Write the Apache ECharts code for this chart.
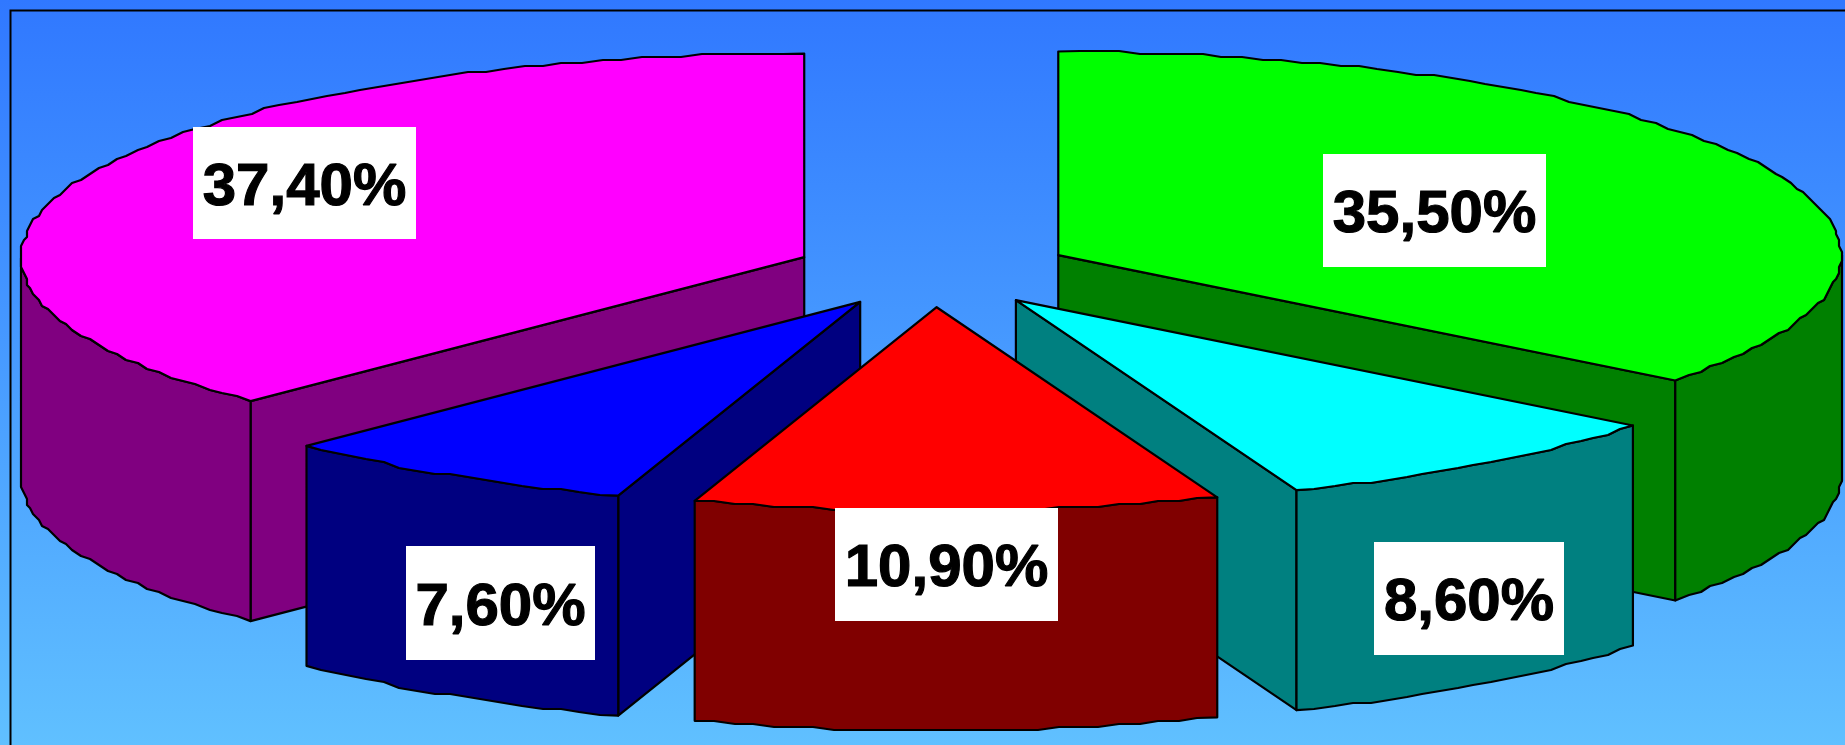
<!DOCTYPE html>
<html>
<head>
<meta charset="utf-8">
<style>html,body{margin:0;padding:0;background:#fff}#c{width:1845px;height:745px}</style>
<script src="https://cdn.jsdelivr.net/npm/echarts@6/dist/echarts.min.js"></script>
</head>
<body>
<div id="c"></div>
<script>
// Data: pie shares in drawing sequence counter-clockwise from 12 o'clock
const categories = ['A', 'B', 'C', 'D', 'E'];
const shares = [37.4, 7.6, 10.9, 8.6, 35.5];
const shareLabels = ['37,40%', '7,60%', '10,90%', '8,60%', '35,50%'];
const topColors = ['#ff00ff', '#0000ff', '#ff0000', '#00ffff', '#00ff00'];
const sideColors = ['#800080', '#000080', '#800000', '#008080', '#008000'];
// Back-to-front painting sequence
const paintOrder = [0, 4, 1, 3, 2];

// Layout
const CX = 933, CY = 271, RX = 783, RY = 203.6;
const EXPLODE = 0.178, DEPTH = 220, SNAP = 3;
const labelBoxes = [
  [193, 127, 223, 112], [406, 546, 189, 114], [835, 508, 223, 113],
  [1374, 542, 190, 113], [1323, 154, 223, 113]
];

const rad = d => d * Math.PI / 180;
const total = shares.reduce((a, b) => a + b, 0);
// The slices' sweeps are whole degrees
const sweeps = shares.map(v => Math.round(v / total * 360));
const startAngles = [];
sweeps.reduce((acc, v, i) => { startAngles[i] = acc; return acc + v; }, 90);

function renderSlice(params, api) {
  const idx = api.value(1);
  const a0 = startAngles[idx];
  const a1 = a0 + sweeps[idx];
  const mid = rad((a0 + a1) / 2);
  const ox = EXPLODE * Math.cos(mid), oy = EXPLODE * Math.sin(mid);
  const at = (deg) => api.coord([ox + Math.cos(rad(deg)), oy + Math.sin(rad(deg))]);
  const apex = api.coord([ox, oy]);
  const snap = p => [Math.round(p[0] / SNAP) * SNAP, Math.round(p[1] / SNAP) * SNAP];
  const arcPts = [];
  const n = Math.max(4, Math.round((a1 - a0) / 1.5));
  for (let k = 0; k <= n; k++) {
    const p = at(a0 + (a1 - a0) * k / n);
    arcPts.push(k === 0 || k === n ? p : snap(p));
  }
  const down = p => [p[0], p[1] + DEPTH];
  const line = { stroke: '#000', lineWidth: 2.2, lineJoin: 'round' };
  const side = Object.assign({ fill: sideColors[idx] }, line);
  const children = [];
  const poly = (points, style) => children.push({ type: 'polygon', shape: { points }, style, silent: true });

  // Radial faces that look toward the viewer
  if (Math.cos(rad(a1)) < -1e-6) {
    const e = arcPts[n];
    poly([apex, e, down(e), down(apex)], side);
  }
  if (Math.cos(rad(a0)) > 1e-6) {
    const s = arcPts[0];
    poly([apex, s, down(s), down(apex)], side);
  }
  // Outer wall: the lower half of the rim only
  const wall = [];
  for (let k = 0; k <= n; k++) {
    const ang = a0 + (a1 - a0) * k / n;
    if (Math.sin(rad(ang)) <= 0.02) wall.push(arcPts[k]);
  }
  if (wall.length > 1) poly(wall.concat(wall.slice().reverse().map(down)), side);
  // Top face
  poly([apex].concat(arcPts), Object.assign({ fill: topColors[idx] }, line));
  return { type: 'group', children };
}

function renderLabel(params, api) {
  const i = params.dataIndex;
  const b = labelBoxes[i];
  return {
    type: 'group',
    children: [
      { type: 'rect', shape: { x: b[0], y: b[1], width: b[2], height: b[3] }, style: { fill: '#fff' }, silent: true },
      { type: 'text', x: b[0] + b[2] / 2, y: b[1] + b[3] / 2 + 5, silent: true,
        style: { text: shareLabels[i], fill: '#000', stroke: '#000', lineWidth: 1.2, align: 'center', verticalAlign: 'middle',
                 font: 'bold 60px "Liberation Sans", Arial, sans-serif' } }
    ]
  };
}

const chart = echarts.init(document.getElementById('c'), null, { renderer: 'canvas', width: 1845, height: 745 });
chart.setOption({
  animation: false,
  backgroundColor: new echarts.graphic.LinearGradient(0, 0, 0, 1, [
    { offset: 0, color: '#3078ff' }, { offset: 1, color: '#60c0ff' }
  ]),
  grid: { left: CX - RX, top: CY - RY, width: 2 * RX, height: 2 * RY, containLabel: false },
  xAxis: { type: 'value', min: -1, max: 1, show: false },
  yAxis: { type: 'value', min: -1, max: 1, show: false },
  graphic: [{
    type: 'rect', silent: true, z: 0,
    shape: { x: 10.5, y: 10.5, width: 1900, height: 800 },
    style: { fill: 'transparent', stroke: '#000', lineWidth: 2 }
  }],
  series: [
    {
      type: 'custom', coordinateSystem: 'cartesian2d', renderItem: renderSlice, silent: true, z: 2,
      encode: { x: 2, y: 3 }, clip: false,
      data: paintOrder.map(i => ({ name: categories[i], value: [shares[i], i, 0, 0] }))
    },
    {
      type: 'custom', coordinateSystem: 'cartesian2d', renderItem: renderLabel, silent: true, z: 3,
      encode: { x: 1, y: 2 }, clip: false,
      data: shares.map((v, i) => ({ name: categories[i], value: [v, 0, 0] }))
    }
  ]
});
</script>
</body>
</html>
